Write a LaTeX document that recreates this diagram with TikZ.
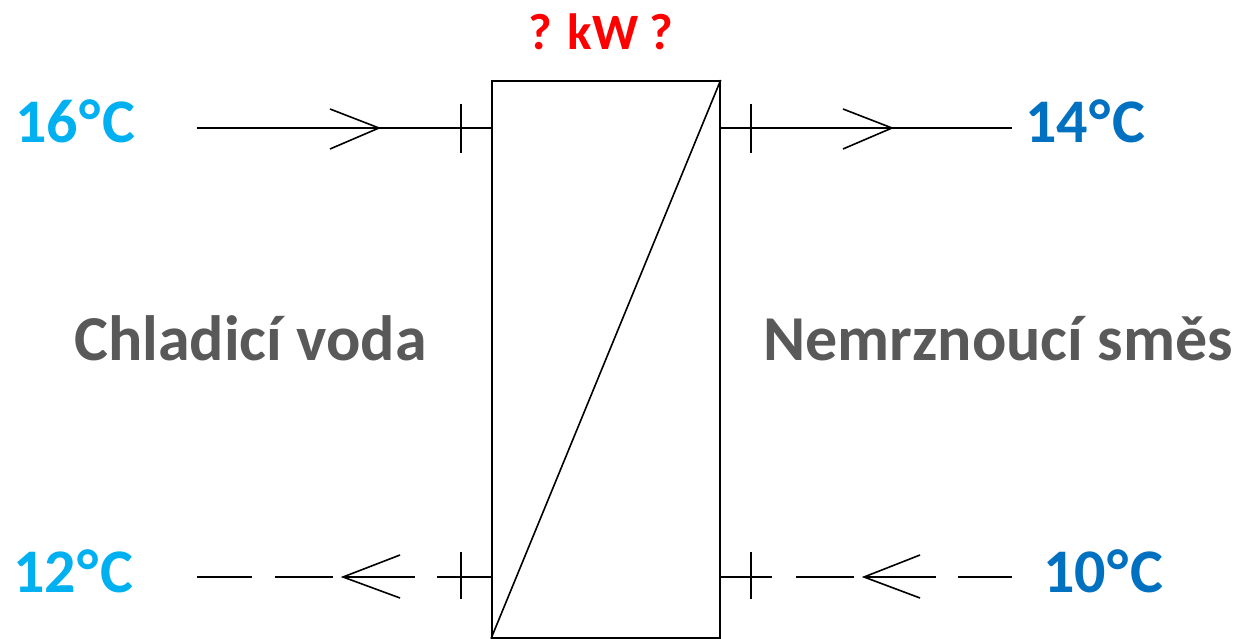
\documentclass[tikz,border=0pt]{standalone}
\usepackage{fontspec}
\setmainfont{Carlito}
\usepackage{tikz}
\usetikzlibrary{positioning}

\definecolor{hotblue}{HTML}{00B0F0}
\definecolor{coldblue}{HTML}{0070C0}
\definecolor{textgray}{HTML}{595959}

\begin{document}
\begin{tikzpicture}[x=1pt,y=-1pt,
    pipe/.style={line width=1.7pt},
    tickmark/.style={line width=1.7pt},
    chevron/.style={line width=1.6pt, line join=miter},
    temp/.style={anchor=base west, inner sep=0pt, font=\fontsize{62}{70}\selectfont\bfseries},
    medium/.style={anchor=base west, inner sep=0pt, text=textgray, font=\fontsize{64}{72}\selectfont\bfseries}]
    \useasboundingbox (0,0) rectangle (1235,639);
    % heat exchanger
    \node [draw, line width=1.7pt, anchor=north west, inner sep=0pt,
        minimum width=228pt, minimum height=557pt] (hx) at (491,80) {};
    \draw [line width=1.6pt] (hx.south west) -- (hx.north east);
    \node [anchor=base, inner sep=0pt, text=red, font=\fontsize{51}{58}\selectfont\bfseries]
        (power) at (601,50) {? kW ?};
    % labels
    \node [temp, text=hotblue] (t16) at (15,143) {16\kern1.5pt°\kern2pt C};
    \node [temp, text=hotblue] (t12) at (13,592) {12\kern1.5pt°\kern2pt C};
    \node [temp, text=coldblue] (t14) at (1025,143) {14\kern1.5pt°\kern2pt C};
    \node [temp, text=coldblue] (t10) at (1043,592) {10\kern1.5pt°\kern2pt C};
    \node [medium] (water) at (74,360) {Chladicí voda};
    \node [medium] (glycol) at (763,360) {Nemrznoucí směs};
    % pipe ends
    \coordinate (win) at (197,128);
    \coordinate (gout) at (1012,128);
    \coordinate (wout) at (197,577);
    \coordinate (gin) at (1012,577);
    % cooling water in (solid)
    \draw [pipe] (win) -- (hx.west |- win);
    \draw [tickmark] (461,104) -- (461,153);
    \draw [chevron] (330,109) -- (379,128) -- (330,149);
    % antifreeze out (solid)
    \draw [pipe] (hx.east |- gout) -- (gout);
    \draw [tickmark] (751,104) -- (751,153);
    \draw [chevron] (843,109) -- (892,128) -- (843,149);
    % cooling water out (dashed)
    \draw [pipe] (wout) -- (252,577);
    \draw [pipe] (275,577) -- (333,577);
    \draw [pipe] (343,577) -- (415,577);
    \draw [pipe] (437,577) -- (hx.west |- wout);
    \draw [tickmark] (461,552) -- (461,599);
    \draw [chevron] (400,555) -- (343,577) -- (400,598);
    % antifreeze in (dashed)
    \draw [pipe] (hx.east |- gin) -- (772,577);
    \draw [pipe] (796,577) -- (854,577);
    \draw [pipe] (864,577) -- (936,577);
    \draw [pipe] (958,577) -- (gin);
    \draw [tickmark] (751,552) -- (751,599);
    \draw [chevron] (920,555) -- (864,577) -- (920,598);
\end{tikzpicture}
\end{document}
